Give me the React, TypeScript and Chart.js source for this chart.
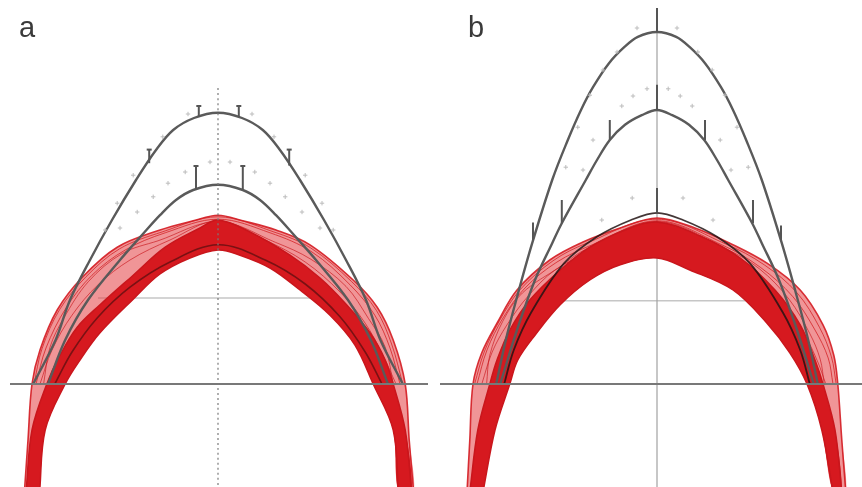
import React, { useEffect, useRef } from "react";
import { Chart, registerables } from "chart.js";

Chart.register(...registerables);

type P = [number, number];
type Tick = [number, number, number]; // x, from y, to y

// Shared vertical range (mm)
const Y_MIN = -12.875;
const Y_MAX = 48;

// ---------- Panel a ----------
const outerArchA: P[] = [
  [-23.1, 0], [-20.3, 5.5], [-18.5, 10.5], [-16, 15.5], [-13.25, 20.5], [-10.25, 25.5],
  [-7.75, 29.25], [-5.6, 31.75], [-3, 33.25], [0, 33.9], [3, 33.25], [5.6, 31.75],
  [7.75, 29.25], [10.25, 25.5], [13.25, 20.5], [16, 15.5], [18.5, 10.5], [20.3, 5.5], [23.1, 0],
];
const innerArchA: P[] = [
  [-21.25, 0], [-19.1, 5.5], [-16.25, 10.5], [-12.25, 15.5], [-9.25, 18.9], [-7.25, 21.1],
  [-5.25, 23], [-3.1, 24.25], [0, 24.9], [3.1, 24.25], [5.25, 23], [7.25, 21.1],
  [9.25, 18.9], [12.25, 15.5], [16.25, 10.5], [19.1, 5.5], [21.25, 0],
];
const errorBarsA: Tick[] = [
  [-2.4, 33.4, 34.75], [2.6, 33.4, 34.75], [-8.6, 27.6, 29.3], [8.9, 27.3, 29.3],
  [-2.75, 24.4, 27.25], [3.1, 24.3, 27.25],
];
const rangeMarksA: P[] = [
  [-3.75, 33.75], [4.25, 33.75], [-6.9, 30.9], [7, 30.9], [-10.6, 26.1], [10.9, 26.1],
  [-12.6, 22.6], [13, 22.6], [-14.1, 19.25], [14.4, 19.25],
  [-1, 27.75], [1.5, 27.75], [-4.1, 26.5], [4.6, 26.5], [-6.25, 25.1], [6.5, 25.1],
  [-8.1, 23.4], [8.4, 23.4], [-10.1, 21.5], [10.5, 21.5], [-12.25, 19.5], [12.75, 19.5],
];
const bundleOuterA: P[] = [
  [-24.2, -13.5], [-23.75, -7], [-23.25, 0], [-22.25, 4.25], [-20.1, 9.25], [-16.9, 13.4],
  [-12.6, 17.1], [-7.25, 19.25], [-3.1, 20.4], [0, 21.1], [3.1, 20.4], [7.25, 19.25],
  [11.5, 17.4], [16.9, 13], [19.9, 9.6], [21.9, 5.5], [23.4, 0], [23.9, -7], [24.45, -13.5],
];
const bandUpperA: P[] = [
  [-24, -13.5], [-23.25, -5.75], [-21.4, 0], [-19.75, 3.6], [-17.6, 7.1], [-14.75, 9.9],
  [-10.6, 13.6], [-6.6, 17.1], [-2.25, 19.5], [0, 20.5], [4, 19], [9, 16.1],
  [12.75, 13.25], [15.9, 10.1], [19, 6.4], [20.9, 3], [21.9, 0], [23.4, -5.75], [24.2, -13.5],
];
const bandInnerA: P[] = [
  [-22.3, -13.5], [-21.6, -5.75], [-19.1, 0], [-17.25, 3], [-14.75, 6.4], [-10.6, 10.6],
  [-7.25, 13.75], [-3.5, 15.75], [0, 16.75], [2.75, 16.1], [6.5, 14.5], [10.25, 11.75],
  [14, 8.6], [17.1, 4.9], [19.4, 0], [21.9, -5.75], [22.55, -13.5],
];
const hatchA: P[][] = [
  [
    [-22.75, 0], [-21.5, 4.5], [-19, 9.5], [-15.75, 13.6], [-11.6, 16.75], [-6.6, 18.9],
    [0, 20.6], [6.5, 18.9], [11.75, 16.5], [16.5, 12.4], [19.6, 8.6], [21.5, 4.5], [22.75, 0],
  ],
  [
    [-22.25, 0], [-20.75, 4.25], [-18.25, 8.6], [-15, 12.4], [-11, 15.5], [-6, 18],
    [0, 20.4], [5.9, 18], [10.9, 15.25], [15.25, 11.5], [18.4, 7.6], [20.6, 3.6], [22.25, 0],
  ],
  [
    [-23, 0], [-22, 4.4], [-19.8, 9.3], [-16.5, 13.4], [-12.3, 16.9], [-7, 19],
    [0, 20.9], [7, 19], [11.6, 17], [16.7, 12.8], [19.8, 9.2], [21.7, 5], [23.1, 0],
  ],
  [
    [-21.8, 0], [-21, 4.6], [-19.3, 8.2], [-16.2, 12.8], [-12, 16.3], [-7.5, 17.9],
    [0, 20.3], [7.2, 17.7], [11.6, 15.6], [16, 12.2], [18.8, 8.2], [20.9, 4.6], [21.9, 0],
  ],
];
const meanArchA: P[] = [
  [-20.4, 0], [-18.25, 4], [-15.1, 8.25], [-11, 12.1], [-6, 15.25], [0, 17.4],
  [5.9, 15.5], [10.9, 12.5], [15.25, 8.4], [18.4, 4], [20.5, 0],
];

// ---------- Panel b ----------
const outerArchB: P[] = [
  [-20.1, 0], [-18.9, 5.5], [-17.6, 10.5], [-15.6, 17.6], [-13.1, 25.5], [-11.25, 30.25],
  [-9.5, 34.25], [-8, 37.1], [-6, 40.1], [-4.1, 42.1], [-2.4, 43.4], [0, 44],
  [2.4, 43.4], [4.1, 42.1], [6, 40.1], [8, 37.1], [9.5, 34.25], [11.25, 30.25],
  [13.1, 25.5], [15.6, 17.6], [17.6, 10.5], [18.9, 5.5], [20.1, 0],
];
const innerArchB: P[] = [
  [-19.6, 0], [-17.5, 6.75], [-15.25, 13], [-13.1, 17.6], [-11.9, 20.1], [-8.9, 25.5],
  [-7.5, 28], [-5.9, 30.5], [-4, 32.4], [-1.9, 33.6], [0, 34.25], [1.9, 33.6], [4, 32.4],
  [5.9, 30.5], [7.5, 28], [8.9, 25.5], [11.9, 20.1], [13.1, 17.6], [15.25, 13],
  [17.5, 6.75], [19.6, 0],
];
const meanArchB: P[] = [
  [-19.1, 0], [-17.9, 4.25], [-15.75, 8.9], [-11.6, 15.1], [-7.5, 18.4], [-3.25, 20.5],
  [0, 21.4], [3.25, 20.5], [7.5, 18.4], [11.6, 15.1], [15.75, 8.9], [17.9, 4.25], [19.1, 0],
];
const errorBarsB: Tick[] = [
  [0, 44, 47], [0, 34.25, 37.4], [0, 21.4, 24.5],
  [-5.9, 30.5, 33], [6, 30.5, 33], [-11.9, 20.1, 23], [12, 20.1, 23],
  [-15.5, 18, 20.2], [15.5, 18, 19.8],
];
const rangeMarksB: P[] = [
  [-2.5, 44.5], [2.5, 44.5], [-5, 41.5], [5.1, 41.5], [-6.75, 39.25], [6.9, 39.25],
  [-8.4, 36.1], [8.5, 36.1], [-9.9, 32.1], [10, 32.1], [-11.4, 27.1], [11.4, 27.1],
  [-1.25, 36.9], [1.4, 36.9], [-3, 36], [2.9, 36], [-4.4, 34.75], [4.4, 34.75],
  [-8, 30.5], [7.9, 30.5], [-9.25, 26.75], [9.25, 26.75],
  [-3.1, 23.25], [3.25, 23.25], [-6.9, 20.5], [7, 20.5],
];
const bundleOuterB: P[] = [
  [-23.75, -13.5], [-23.4, -7], [-23, 0], [-21.9, 3.9], [-20, 7.6], [-17.5, 11.75],
  [-13.4, 15.5], [-9.25, 17.75], [-4.6, 19.5], [0, 20.75], [4.75, 19.5], [9.1, 17.6],
  [13.75, 15.1], [17.9, 11.75], [20.75, 7.4], [22.1, 3.6], [22.6, 0], [23.1, -7], [23.6, -13.5],
];
const bandUpperB: P[] = [
  [-23.4, -13.5], [-22.4, -5.75], [-20.9, 0], [-20, 3], [-18.4, 6.75], [-15.9, 10.5],
  [-12.1, 14.25], [-8.4, 17.1], [-4, 19.25], [0, 20.25], [5.4, 18.5], [10.4, 15.75],
  [14.75, 11.75], [17.9, 7.4], [19.75, 3], [20.75, 0], [22.25, -5.75], [23.1, -13.5],
];
const bandInnerB: P[] = [
  [-21.75, -13.5], [-20.25, -5.75], [-18.4, 0], [-17.4, 3], [-15.25, 6.1], [-12.1, 9.9],
  [-8.4, 13], [-4.6, 14.9], [0, 15.75], [4.1, 14.25], [9.5, 11.75], [13.75, 7.6],
  [16.6, 3.9], [18.75, 0], [20.6, -5.75], [22, -13.5],
];
const hatchB: P[][] = [
  [
    [-22.5, 0], [-21.25, 4.25], [-19.25, 8.25], [-16.5, 12], [-12.5, 15.25], [-8.1, 17.4],
    [0, 20.4], [8.1, 17.4], [12.9, 14.6], [17, 10.9], [19.75, 6.75], [21.4, 3.25], [22, 0],
  ],
  [
    [-21.9, 0], [-20.6, 4], [-18.75, 7.4], [-16.1, 11], [-12.75, 14.25], [-8.4, 16.5],
    [0, 20.25], [7.9, 16.75], [12.25, 13.9], [16, 10.1], [18.5, 6.1], [20.1, 2.75], [21.1, 0],
  ],
  [
    [-22.8, 0], [-21.6, 4], [-19.7, 7.9], [-17.1, 11.8], [-13, 15.4], [-8.8, 17.6],
    [0, 20.6], [8.6, 17.5], [13.4, 14.9], [17.5, 11.4], [20.3, 7.1], [21.8, 3.4], [22.4, 0],
  ],
  [
    [-21.3, 0], [-20.9, 3.6], [-19.3, 7.8], [-16.8, 11.4], [-12.2, 14.6], [-8.8, 16.9],
    [0, 20.3], [8.6, 16.9], [12.8, 14.4], [16.5, 10.6], [19.1, 6.3], [20.4, 3.1], [20.9, 0],
  ],
];

// Reference lines
const baselineA: P[] = [[-26, 0], [26.25, 0]];
const midlineA: P[] = [[0, 37], [0, -13.5]];
const gridA: P[] = [[-15, 10.75], [15, 10.75]];
const baselineB: P[] = [[-27.125, 0], [25.625, 0]];
const midlineB: P[] = [[0, 47], [0, -13.5]];
const gridB: P[] = [[-15, 10.4], [15, 10.4]];

const GREY = "#5a5a5a";

const pts = (arr: P[]) => arr.map(([x, y]) => ({ x, y }));

function curve(data: P[], color: string, width: number, order: number, extra: any = {}) {
  return {
    data: pts(data),
    borderColor: color,
    borderWidth: width,
    pointRadius: 0,
    fill: false,
    tension: 0.35,
    order,
    ...extra,
  };
}

function area(upper: P[], lower: P[], color: string, order: number) {
  return {
    data: pts([...upper, ...lower.slice().reverse()]),
    borderWidth: 0,
    borderColor: "rgba(0,0,0,0)",
    backgroundColor: color,
    pointRadius: 0,
    fill: "shape",
    tension: 0.3,
    order,
  };
}

function bars(list: Tick[], capRadius: number, order: number) {
  return list.map(([x, y0, y1]) => ({
    data: [{ x, y: y0 }, { x, y: y1 }],
    borderColor: "#555",
    borderWidth: 2,
    pointRadius: [0, capRadius],
    pointStyle: "line",
    pointBorderColor: "#555",
    pointBorderWidth: 2,
    fill: false,
    order,
  }));
}

function marks(list: P[], order: number) {
  return {
    data: pts(list),
    showLine: false,
    pointStyle: "cross",
    pointRadius: 2.2,
    pointBorderColor: "#bcbcbc",
    pointBorderWidth: 1,
    order,
  };
}

function bundle(outer: P[], upper: P[], inner: P[], hatch: P[][]) {
  return [
    area(outer, inner, "rgba(228,62,66,0.55)", 16),
    ...hatch.map((h, i) => curve(h, i % 2 ? "rgba(200,22,28,0.65)" : "rgba(210,30,34,0.75)", 1, 15)),
    curve(outer, "rgba(212,28,34,0.9)", 1.6, 14),
    area(upper, inner, "#d6191f", 13),
    curve(upper, "#c9161c", 1.5, 12),
    curve(inner, "#c9161c", 1.5, 12),
  ];
}

function datasetsA() {
  return [
    curve(gridA, "#c6c6c6", 1.5, 20),
    ...bundle(bundleOuterA, bandUpperA, bandInnerA, hatchA),
    curve(meanArchA, "rgba(60,12,12,0.6)", 1.6, 11),
    curve(outerArchA, GREY, 2.4, 8),
    curve(innerArchA, GREY, 2.4, 8),
    ...bars(errorBarsA, 2.5, 7),
    marks(rangeMarksA, 6),
    curve(baselineA, "#787878", 2, 5),
    curve(midlineA, "#7a7a7a", 1.2, 4, { borderDash: [2, 3] }),
  ];
}

function datasetsB() {
  return [
    curve(gridB, "#c6c6c6", 1.5, 20),
    curve(midlineB, "#a2a2a2", 1.2, 19),
    ...bundle(bundleOuterB, bandUpperB, bandInnerB, hatchB),
    curve(meanArchB, "rgba(35,20,20,0.85)", 1.8, 11),
    curve(outerArchB, GREY, 2.4, 8),
    curve(innerArchB, GREY, 2.4, 8),
    ...bars(errorBarsB, 0, 7),
    marks(rangeMarksB, 6),
    curve(baselineB, "#787878", 2, 5),
  ];
}

type PanelProps = {
  build: () => any[];
  xMin: number;
  xMax: number;
  padLeft: number;
  padRight: number;
  left: number;
};

function Panel({ build, xMin, xMax, padLeft, padRight, left }: PanelProps) {
  const ref = useRef<HTMLCanvasElement>(null);
  useEffect(() => {
    if (!ref.current) return;
    const chart = new Chart(ref.current, {
      type: "line",
      data: { datasets: build() },
      options: {
        responsive: false,
        animation: false,
        events: [],
        layout: {
          autoPadding: false,
          padding: { left: padLeft, right: padRight, top: 0, bottom: 0 },
        },
        plugins: { legend: { display: false }, tooltip: { enabled: false } },
        scales: {
          x: { type: "linear", min: xMin, max: xMax, display: false },
          y: { type: "linear", min: Y_MIN, max: Y_MAX, display: false },
        },
      },
    } as any);
    return () => chart.destroy();
  }, []);
  return (
    <canvas
      ref={ref}
      width={431}
      height={487}
      style={{ position: "absolute", left, top: 0, width: 431, height: 487 }}
    />
  );
}

const labelStyle: React.CSSProperties = {
  position: "absolute",
  top: 13,
  fontFamily: "'Liberation Sans', Arial, sans-serif",
  fontSize: 29,
  lineHeight: "29px",
  color: "#3a3a3a",
};

export default function App() {
  return (
    <div
      style={{
        position: "fixed",
        left: 0,
        top: 0,
        width: 862,
        height: 487,
        background: "#fff",
        overflow: "hidden",
      }}
    >
      <Panel build={datasetsA} xMin={-26} xMax={26.25} padLeft={10} padRight={3} left={0} />
      <Panel build={datasetsB} xMin={-27.125} xMax={25.625} padLeft={9} padRight={0} left={431} />
      <div style={{ ...labelStyle, left: 19 }}>a</div>
      <div style={{ ...labelStyle, left: 468 }}>b</div>
    </div>
  );
}
